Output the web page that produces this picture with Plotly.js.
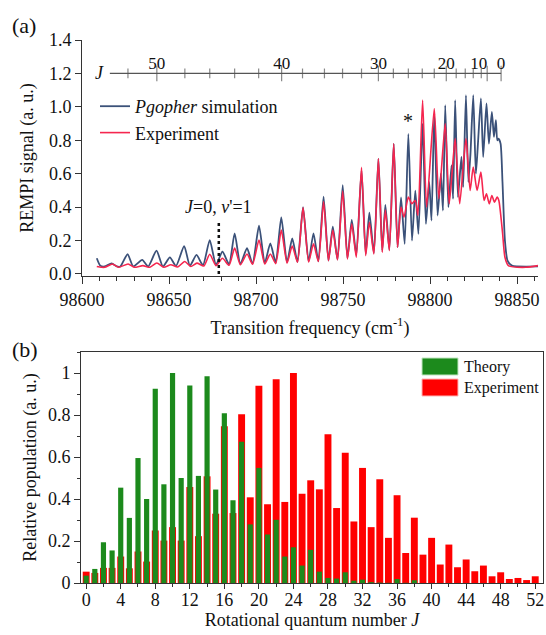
<!DOCTYPE html>
<html>
<head>
<meta charset="utf-8">
<script src="https://cdn.plot.ly/plotly-3.0.1.min.js"></script>
<style>html,body{margin:0;padding:0;background:#fff;}#chart{width:546px;height:635px;}</style>
</head>
<body>
<div id="chart"></div>
<script>
// ---------- Panel (a): REMPI spectrum ----------
const simFreq = [98608.5,98610.5,98613,98617,98620,98622,98626.2,98629.5,98634.6,98638,98642.8,98646.5,98650.5,98654,98658.7,98662,98665.8,98669.5,98673.4,98677,98680.7,98684.5,98687.7,98691,98694.8,98698,98701.7,98705,98708.2,98711.3,98714.5,98717.8,98720.8,98723.8,98727,98730.2,98733,98735.8,98738.8,98741.6,98744.1,98746.8,98749.8,98752.5,98755,98757.6,98760.6,98763,98765.1,98767.7,98770.3,98772.5,98774.3,98776.6,98779.1,98781.3,98783.3,98785.4,98787.5,98789.6,98791.5,98793.3,98795.7,98797.6,98799.5,98800.8,98802.4,98804.3,98806.2,98807.4,98808.7,98810.5,98812.3,98813.2,98814.4,98816,98818,98819,98820.6,98822,98823.2,98824.8,98826.3,98827.5,98829.2,98830.5,98832.4,98833.8,98835.5,98836.7,98837.8,98838.6,98839.3,98840.5,98841.6,98843,98844.5,98847,98862];
const simSignal = [0.094,0.05,0.045,0.064,0.045,0.045,0.118,0.045,0.084,0.045,0.14,0.045,0.10,0.048,0.167,0.05,0.114,0.052,0.203,0.055,0.134,0.058,0.243,0.06,0.154,0.062,0.289,0.065,0.183,0.068,0.339,0.07,0.213,0.072,0.40,0.075,0.243,0.076,0.463,0.08,0.283,0.086,0.532,0.095,0.323,0.114,0.62,0.12,0.367,0.126,0.69,0.14,0.413,0.145,0.78,0.16,0.459,0.18,0.838,0.20,0.498,0.24,0.90,0.30,0.55,0.32,0.96,0.35,0.60,0.38,1.01,0.40,0.65,0.45,1.04,0.46,0.70,0.52,1.07,0.55,0.72,1.07,0.60,0.78,1.05,0.70,1.02,0.78,0.97,0.82,0.92,0.80,0.81,0.78,0.55,0.20,0.08,0.05,0.045];

const expFreq = [98608.5,98613,98617.5,98621,98626.5,98630,98635,98639,98643,98647,98651,98655,98659,98662.5,98666,98670,98673.4,98677,98680.7,98684.5,98687.7,98691,98694.8,98698,98701.7,98705,98708.2,98711.3,98714.5,98717.8,98720.8,98723.8,98727,98730.2,98733,98735.8,98738.8,98741.6,98744.1,98746.8,98749.8,98752.5,98755,98757.6,98760.6,98763,98765.1,98767.7,98770.3,98772.5,98774.3,98776.6,98779.1,98781.3,98783.3,98785,98787.5,98789.5,98791.5,98793,98795.7,98798,98802.4,98805,98808.7,98811,98814.4,98817,98820.6,98823,98824.8,98827,98829.2,98831,98832.4,98834,98835.5,98837,98838.5,98839.5,98841.6,98843,98845,98855,98862];
const expSignal = [0.045,0.04,0.06,0.04,0.06,0.04,0.05,0.04,0.066,0.04,0.055,0.042,0.075,0.045,0.065,0.048,0.118,0.05,0.094,0.052,0.155,0.055,0.12,0.058,0.203,0.06,0.12,0.062,0.263,0.065,0.167,0.07,0.397,0.072,0.18,0.075,0.433,0.08,0.263,0.085,0.497,0.09,0.30,0.10,0.638,0.11,0.31,0.12,0.69,0.13,0.383,0.14,0.78,0.16,0.40,0.34,0.46,0.42,0.44,0.35,1.04,0.40,0.99,0.45,0.90,0.42,0.81,0.42,0.81,0.50,0.64,0.50,0.61,0.44,0.48,0.42,0.47,0.43,0.46,0.44,0.25,0.10,0.05,0.04,0.05];

// J (rotational) scale drawn above the spectrum
const jScaleLabels = [52,50,48,46,44,42,40,38,36,34,32,30,28,26,24,22,20,18,16,14,12,10,0];
const jScaleFreq = [98626.4,98643.0,98659.1,98673.4,98687.7,98701.5,98714.7,98726.7,98739.3,98749.7,98760.6,98770.3,98778.9,98787.5,98795.5,98802.4,98809.3,98815.0,98820.2,98824.8,98829.4,98832.8,98840.8];
const jScaleStart = 98616;
const bandOriginFreq = 98678.6;   // J=0, v'=1
const starFreq = 98787.5;

// ---------- Panel (b): rotational populations ----------
const rotJ = [0,1,2,3,4,5,6,7,8,9,10,11,12,13,14,15,16,17,18,19,20,21,22,23,24,25,26,27,28,29,30,31,32,33,34,35,36,37,38,39,40,41,42,43,44,45,46,47,48,49,50,51,52];
const theoryPop = [0.035,0.067,0.194,0.155,0.454,0.31,0.595,0.40,0.925,0.47,1.0,0.50,0.94,0.51,0.985,0.445,0.808,0.394,0.673,0.279,0.548,0.231,0.301,0.126,0.170,0.083,0.158,0.054,0.024,0.021,0.051,0.011,0.016,0.004,0.002,0.001,0.019,0.001,0.013,0,0,0,0,0,0,0,0,0,0,0,0,0,0];
const experimentPop = [0.054,0.048,0.072,0.072,0.126,0.070,0.150,0.102,0.250,0.202,0.266,0.202,0.457,0.223,0.508,0.330,0.747,0.333,0.803,0.408,0.939,0.375,0.97,0.386,1.0,0.425,0.489,0.446,0.708,0.357,0.620,0.293,0.548,0.266,0.494,0.215,0.418,0.143,0.311,0.135,0.215,0.088,0.183,0.075,0.112,0.056,0.083,0.032,0.051,0.019,0.024,0.014,0.032];

const FONT = 'Liberation Serif, Times New Roman, serif';
const BLUE = '#3b5179';
const RED = '#f5264f';
const GREEN = '#1c8a1c';
const W = 546, H = 635;
const px = v => v / W;
const py = v => 1 - v / H;

const jMajor = jScaleLabels.map(j => j % 10 === 0);
const jScaleY = 1.2;
const jLabIdx = jScaleLabels.map((j, i) => i).filter(i => jMajor[i]);

const traces = [
  { x: simFreq, y: simSignal, type: 'scatter', mode: 'lines', name: '<i>Pgopher</i> simulation',
    line: { color: BLUE, width: 1.8, shape: 'spline', smoothing: 0.6 }, xaxis: 'x', yaxis: 'y', legend: 'legend' },
  { x: expFreq, y: expSignal, type: 'scatter', mode: 'lines', name: 'Experiment',
    line: { color: RED, width: 1.6, shape: 'spline', smoothing: 0.6 }, xaxis: 'x', yaxis: 'y', legend: 'legend' },
  // J scale line
  { x: [jScaleStart, jScaleFreq[jScaleFreq.length - 1]], y: [jScaleY, jScaleY], type: 'scatter', mode: 'lines',
    line: { color: '#555', width: 1.2 }, showlegend: false, hoverinfo: 'skip', xaxis: 'x', yaxis: 'y' },
  // J scale ticks
  { x: jScaleFreq, y: jScaleFreq.map(() => jScaleY), type: 'scatter', mode: 'markers',
    marker: { symbol: 'line-ns', size: jMajor.map(m => m ? 11 : 7), line: { color: '#555', width: 1.2 } },
    showlegend: false, hoverinfo: 'skip', xaxis: 'x', yaxis: 'y' },
  // J scale labels
  { x: jLabIdx.map(i => jScaleFreq[i]), y: jLabIdx.map(() => jScaleY),
    text: jLabIdx.map(i => String(jScaleLabels[i])), type: 'scatter', mode: 'text',
    textposition: jLabIdx.map(i => jScaleLabels[i] === 10 ? 'top left' : 'top center'),
    textfont: { family: FONT, size: 17, color: '#111' },
    showlegend: false, hoverinfo: 'skip', xaxis: 'x', yaxis: 'y' },
  // Panel (b) bars: experiment behind, theory in front
  { x: rotJ, y: experimentPop, type: 'bar', name: 'Experiment', width: 0.8, opacity: 1,
    marker: { color: '#ff0000', line: { width: 0 } }, xaxis: 'x2', yaxis: 'y2', showlegend: false },
  { x: rotJ, y: theoryPop, type: 'bar', name: 'Theory', width: 0.6, opacity: 1,
    marker: { color: GREEN, line: { width: 0 } }, xaxis: 'x2', yaxis: 'y2', showlegend: false }
];

const axisFont = { family: FONT, size: 18, color: '#111' };

const layout = {
  width: W, height: H,
  margin: { l: 0, r: 0, t: 0, b: 0 },
  paper_bgcolor: '#fff', plot_bgcolor: 'rgba(0,0,0,0)',
  font: { family: FONT, size: 18, color: '#111' },
  barmode: 'overlay',
  xaxis: {
    domain: [px(82), px(538)], anchor: 'y', range: [98600, 98862],
    tickvals: [98600, 98650, 98700, 98750, 98800, 98850], tickformat: 'd', ticks: 'outside', ticklen: 7, tickwidth: 1,
    tickcolor: '#333', minor: { dtick: 10, tick0: 98600, ticks: 'outside', ticklen: 4, tickcolor: '#333' },
    showline: true, linecolor: '#333', linewidth: 1, showgrid: false, zeroline: false,
    tickfont: axisFont, title: { text: 'Transition frequency (cm<sup>-1</sup>)', font: axisFont, standoff: 12 }
  },
  yaxis: {
    domain: [py(276), py(40)], anchor: 'x', range: [-0.012, 1.4],
    tickvals: [0, 0.2, 0.4, 0.6, 0.8, 1.0, 1.2, 1.4], tickformat: '.1f', ticks: 'outside', ticklen: 6, tickwidth: 1,
    tickcolor: '#333', showline: true, linecolor: '#333', linewidth: 1, showgrid: false, zeroline: false,
    tickfont: axisFont, title: { text: 'REMPI signal (a. u.)', font: axisFont, standoff: 10 }
  },
  xaxis2: {
    domain: [px(81), px(543)], anchor: 'y2', range: [-0.6, 52.9],
    tickvals: [0,4,8,12,16,20,24,28,32,36,40,44,48,52], ticks: 'outside', ticklen: 5, tickcolor: '#333',
    ticklabelstandoff: -5,
    minor: { dtick: 2, tick0: 0, ticks: 'outside', ticklen: 3, tickcolor: '#333' },
    showline: true, mirror: true, linecolor: '#333', linewidth: 1, showgrid: false, zeroline: false,
    tickfont: axisFont, title: { text: 'Rotational quantum number <i>J</i>', font: axisFont, standoff: 2 }
  },
  yaxis2: {
    domain: [py(583), py(352)], anchor: 'x2', range: [0, 1.1],
    tickvals: [0, 0.2, 0.4, 0.6, 0.8, 1], ticktext: ['0', '0.2', '0.4', '0.6', '0.8', '1'], ticks: 'outside', ticklen: 6, tickcolor: '#333',
    minor: { dtick: 0.1, tick0: 0, ticks: 'outside', ticklen: 3, tickcolor: '#333' },
    showline: true, mirror: true, linecolor: '#333', linewidth: 1, showgrid: false, zeroline: false,
    tickfont: axisFont, title: { text: 'Relative population (a. u.)', font: axisFont, standoff: 6 }
  },
  legend: {
    x: px(95), y: py(88), xanchor: 'left', yanchor: 'top', bgcolor: 'rgba(0,0,0,0)',
    font: { family: FONT, size: 18, color: '#111' }, tracegroupgap: 0, itemwidth: 30
  },
  shapes: [
    { type: 'line', xref: 'x', yref: 'y', x0: bandOriginFreq, x1: bandOriginFreq, y0: 0, y1: 0.305,
      line: { color: '#111', width: 2.5, dash: 'dot' } },
    { type: 'rect', xref: 'paper', yref: 'paper', x0: px(422), x1: px(458), y0: py(375), y1: py(358),
      fillcolor: GREEN, line: { color: '#bfe6bf', width: 1 } },
    { type: 'rect', xref: 'paper', yref: 'paper', x0: px(422), x1: px(458), y0: py(396), y1: py(379),
      fillcolor: '#ff0000', line: { color: '#ffb4b4', width: 1 } }
  ],
  annotations: [
    { text: '(a)', xref: 'paper', yref: 'paper', x: px(10), y: py(25), xanchor: 'left', yanchor: 'middle',
      showarrow: false, font: { family: FONT, size: 22, color: '#111' } },
    { text: '(b)', xref: 'paper', yref: 'paper', x: px(10), y: py(349), xanchor: 'left', yanchor: 'middle',
      showarrow: false, font: { family: FONT, size: 22, color: '#111' } },
    { text: '<i>J</i>', xref: 'x', yref: 'y', x: jScaleStart, y: jScaleY, xanchor: 'right', yanchor: 'middle',
      xshift: -4, showarrow: false, font: { family: FONT, size: 18, color: '#111' } },
    { text: '<i>J</i>=0, <i>v</i>\'=1', xref: 'x', yref: 'y', x: bandOriginFreq, y: 0.305, xanchor: 'center', yanchor: 'bottom',
      yshift: 4, showarrow: false, font: { family: FONT, size: 18, color: '#111' } },
    { text: '*', xref: 'x', yref: 'y', x: starFreq, y: 0.84, xanchor: 'center', yanchor: 'bottom',
      showarrow: false, font: { family: FONT, size: 20, color: '#111' } },
    { text: 'Theory', xref: 'paper', yref: 'paper', x: px(462), y: py(367), xanchor: 'left', yanchor: 'middle',
      showarrow: false, font: { family: FONT, size: 16, color: '#111' } },
    { text: 'Experiment', xref: 'paper', yref: 'paper', x: px(462), y: py(388), xanchor: 'left', yanchor: 'middle',
      showarrow: false, font: { family: FONT, size: 16, color: '#111' } }
  ]
};

Plotly.newPlot('chart', traces, layout, { displayModeBar: false, staticPlot: true });
</script>
</body>
</html>
